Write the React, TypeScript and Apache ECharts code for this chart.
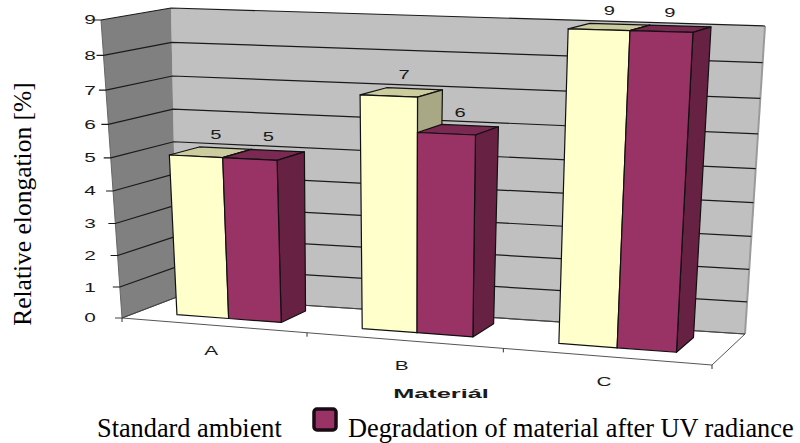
import React, { useEffect, useRef } from "react";
import * as echarts from "echarts";

const categories = ["A", "B", "C"];
const standardAmbient = [5, 7, 9];
const degradation = [5, 6, 9];
const yTicks = [0, 1, 2, 3, 4, 5, 6, 7, 8, 9];
const xBoundaries = [0, 1, 2, 3];
const seriesNames = ["Standard ambient", "Degradation of material after UV radiance"];
const yAxisTitle = "Relative elongation [%]";
const xAxisTitle = "Materiál";

const W = 800;
const H = 443;
const SANS = "Liberation Sans, Arial, sans-serif";
const SERIF = "Liberation Serif, Times New Roman, serif";

// Corners of the 3D box on the page
const FLB = [122, 318];
const FRB = [712, 365];
const BLB = [177, 297];
const BRB = [745, 334];
const FLT = [101, 20];
const FRT = [731, 37];
const BLT = [171, 8];
const BRT = [765, 26];

const lerp = (a: number[], b: number[], t: number) => [a[0] + (b[0] - a[0]) * t, a[1] + (b[1] - a[1]) * t];
const warp = (t: number, b: number) => ((1 + b) * t) / (1 + b * t);

// u, v in 0..1 (from the cartesian scales), z = depth in 0..1
function project(u: number, v: number, z: number) {
  const uw = warp(u, -0.0862);
  const vw = warp(v, -0.0714);
  const bottom = lerp(lerp(FLB, FRB, uw), lerp(BLB, BRB, uw), z);
  const top = lerp(lerp(FLT, FRT, uw), lerp(BLT, BRT, uw), z);
  return lerp(bottom, top, vw);
}

function uv(api: any, cat: number, value: number) {
  const p = api.coord([cat, value]);
  return [p[0] / W, 1 - p[1] / H];
}

const BAR_W = 0.285 / 3;
const Z_F = 0.3;
const Z_B = 0.79;

function barItem(colors: { front: string; top: string; side: string }, side: number) {
  return (_: any, api: any) => {
    const [uc, v] = uv(api, api.value(0), api.value(1));
    const u0 = uc + (side < 0 ? -BAR_W : 0);
    const u1 = u0 + BAR_W;
    const fbl = project(u0, 0, Z_F);
    const fbr = project(u1, 0, Z_F);
    const ftl = project(u0, v, Z_F);
    const ftr = project(u1, v, Z_F);
    const bbr = project(u1, 0, Z_B);
    const btr = project(u1, v, Z_B);
    const btl = project(u0, v, Z_B);
    const stroke = { stroke: "#111111", lineWidth: 1.2, lineJoin: "round" };
    return {
      type: "group",
      children: [
        { type: "polygon", shape: { points: [ftl, ftr, btr, btl] }, style: { fill: colors.top, ...stroke } },
        { type: "polygon", shape: { points: [fbr, ftr, btr, bbr] }, style: { fill: colors.side, ...stroke } },
        { type: "polygon", shape: { points: [fbl, fbr, ftr, ftl] }, style: { fill: colors.front, ...stroke } },
      ],
    };
  };
}

function labelItem(side: number) {
  return (_: any, api: any) => {
    const [uc, v] = uv(api, api.value(0), api.value(1));
    const u = uc + (side * BAR_W) / 2;
    const p = project(u, v, 0.55);
    return {
      type: "text",
      x: p[0] + 6 - 8 * u,
      y: p[1] - 18 + 2 * u,
      scaleX: 1.55,
      style: {
        text: String(api.value(1)),
        fontSize: 13,
        fontFamily: SANS,
        fill: "#1a1a1a",
        align: "center",
        verticalAlign: "middle",
      },
    };
  };
}

function wallItem(_: any, api: any) {
  const [, v1] = uv(api, 0, 9);
  const [, v0] = uv(api, 0, 0);
  return {
    type: "group",
    children: [
      {
        type: "polygon",
        shape: { points: [project(0, v0, 1), project(1, v0, 1), project(1, v1, 1), project(0, v1, 1)] },
        style: { fill: "#c0c0c0" },
      },
      {
        type: "polygon",
        shape: { points: [project(0, v0, 0), project(0, v0, 1), project(0, v1, 1), project(0, v1, 0)] },
        style: { fill: "#808080" },
      },
      {
        type: "polyline",
        shape: { points: [project(1, v0, 1), project(1, v1, 1)] },
        style: { stroke: "#9a9a9a", lineWidth: 2, fill: "none" },
      },
      {
        type: "polyline",
        shape: { points: [project(0, v0, 0), project(1, v0, 0), project(1, v0, 1), project(0, v0, 1), project(0, v0, 0)] },
        style: { stroke: "#555555", lineWidth: 1, fill: "none" },
      },
      {
        type: "polyline",
        shape: { points: [project(0, v0, 0), project(0, v1, 0)] },
        style: { stroke: "#666666", lineWidth: 1, fill: "none" },
      },
    ],
  };
}

function gridItem(_: any, api: any) {
  const val = api.value(1);
  const [, v] = uv(api, 0, val);
  const front = project(0, v, 0);
  const children: any[] = [
    {
      type: "polyline",
      shape: { points: [[front[0] - 7, front[1]], front, project(0, v, 1), project(1, v, 1)] },
      style: { stroke: val === 0 ? "#444444" : "#1a1a1a", lineWidth: 1.2, fill: "none" },
    },
    {
      type: "text",
      x: 90,
      y: front[1],
      scaleX: 1.6,
      style: {
        text: String(val),
        fontSize: 13,
        fontFamily: SANS,
        fill: "#1a1a1a",
        align: "center",
        verticalAlign: "middle",
      },
    },
  ];
  return { type: "group", children };
}

function xTickItem(_: any, api: any) {
  const p0 = api.coord([0, 0]);
  const band = api.size([1, 0])[0];
  const u = (p0[0] - band / 2 + band * api.value(0)) / W;
  const p = project(u, 0, 0);
  return {
    type: "line",
    shape: { x1: p[0], y1: p[1], x2: p[0], y2: p[1] + 4 },
    style: { stroke: "#333333", lineWidth: 1 },
  };
}

function catLabelItem(_: any, api: any) {
  const i = api.value(0);
  const [u, v] = uv(api, i, 0);
  const p = project(u, v, 0);
  return {
    type: "text",
    x: p[0] - 2,
    y: p[1] + 25,
    scaleX: 1.6,
    style: {
      text: categories[i],
      fontSize: 13,
      fontFamily: SANS,
      fill: "#1a1a1a",
      align: "center",
      verticalAlign: "middle",
    },
  };
}

const custom = (name: string, data: any[], renderItem: any, extra: any = {}) => ({
  type: "custom",
  name,
  data,
  renderItem,
  clip: false,
  silent: true,
  ...extra,
});

export default function App() {
  const ref = useRef<HTMLDivElement>(null);
  useEffect(() => {
    const chart = echarts.init(ref.current!, undefined, { renderer: "svg" });
    chart.setOption({
      animation: false,
      backgroundColor: "#ffffff",
      grid: { left: 0, right: 0, top: 0, bottom: 0 },
      xAxis: { type: "category", data: categories, show: false, boundaryGap: true },
      yAxis: { type: "value", min: 0, max: 9, interval: 1, show: false },
      series: [
        custom("walls", [[0, 0]], wallItem),
        custom("grid", yTicks.map((t) => [0, t]), gridItem),
        custom("xticks", xBoundaries.map((t) => [t, 0]), xTickItem),
        custom("categories", categories.map((_, i) => [i, 0]), catLabelItem),
        custom(
          seriesNames[0],
          standardAmbient.map((v, i) => [i, v]),
          barItem({ front: "#ffffcc", top: "#cccc9e", side: "#a8a884" }, -1)
        ),
        custom(
          seriesNames[1],
          degradation.map((v, i) => [i, v]),
          barItem({ front: "#993366", top: "#7a2952", side: "#662143" }, 1)
        ),
        custom("labels0", standardAmbient.map((v, i) => [i, v]), labelItem(-1)),
        custom("labels1", degradation.map((v, i) => [i, v]), labelItem(1)),
      ],
      graphic: [
        {
          type: "text",
          x: 22,
          y: 204,
          rotation: Math.PI / 2,
          style: {
            text: yAxisTitle,
            fontSize: 25.5,
            fontFamily: SERIF,
            fill: "#000000",
            align: "center",
            verticalAlign: "middle",
          },
        },
        {
          type: "text",
          x: 441,
          y: 393,
          scaleX: 1.95,
          style: {
            text: xAxisTitle,
            fontSize: 13,
            fontWeight: "bold",
            fontFamily: SANS,
            fill: "#1a1a1a",
            align: "center",
            verticalAlign: "middle",
          },
        },
        {
          type: "text",
          x: 97,
          y: 428,
          style: {
            text: seriesNames[0],
            fontSize: 26.3,
            fontFamily: SERIF,
            fill: "#000000",
            align: "left",
            verticalAlign: "middle",
          },
        },
        {
          type: "rect",
          shape: { x: 314, y: 409, width: 22, height: 21, r: 3 },
          style: { fill: "#993366", stroke: "#1a0a12", lineWidth: 3.5 },
        },
        {
          type: "text",
          x: 348,
          y: 428,
          style: {
            text: seriesNames[1],
            fontSize: 26.3,
            fontFamily: SERIF,
            fill: "#000000",
            align: "left",
            verticalAlign: "middle",
          },
        },
      ],
    });
    return () => chart.dispose();
  }, []);
  return <div ref={ref} style={{ width: W, height: H, position: "absolute", left: 0, top: 0 }} />;
}
